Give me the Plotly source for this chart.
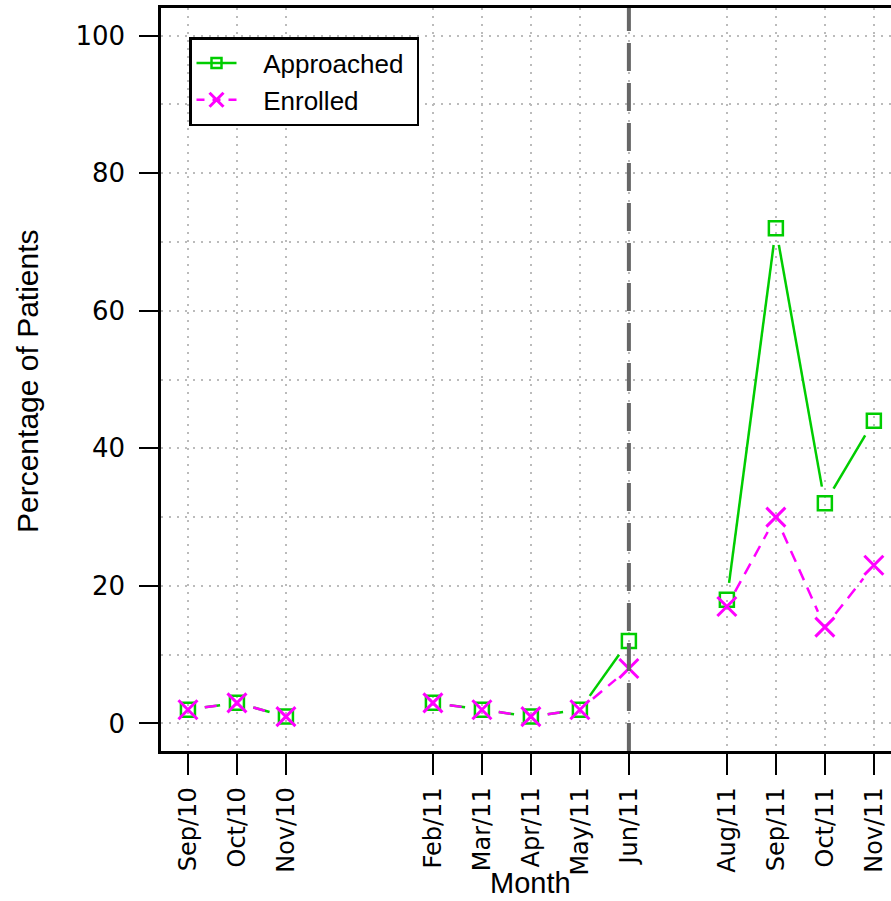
import math
import plotly.graph_objects as go

# ---------------- data ----------------
months = ["Sep/10", "Oct/10", "Nov/10", "Dec/10", "Jan/11", "Feb/11", "Mar/11",
          "Apr/11", "May/11", "Jun/11", "Jul/11", "Aug/11", "Sep/11", "Oct/11", "Nov/11"]
approached = [2, 3, 1, None, None, 3, 2, 1, 2, 12, None, 18, 72, 32, 44]
enrolled = [2, 3, 1, None, None, 3, 2, 1, 2, 8, None, 17, 30, 14, 23]
cutoff_month = "Jun/11"
y_ticks = [0, 20, 40, 60, 80, 100]

# ---------------- geometry ----------------
W, H = 891, 901
M_L, M_R, M_T, M_B = 161, 0, 8, 150
PLOT_W = W - M_L - M_R
PLOT_H = H - M_T - M_B
X_RANGE = [-0.55, 14.35]
Y_RANGE = [-4, 104]
SX = PLOT_W / (X_RANGE[1] - X_RANGE[0])
SY = PLOT_H / (Y_RANGE[1] - Y_RANGE[0])
GAP = 17  # px gap between line ends and points (R type="b")

xs = list(range(len(months)))
tick_x = [x for x, a in zip(xs, approached) if a is not None]
tick_text = [months[x] for x in tick_x]
cut_x = months.index(cutoff_month)


def gapped(xv, yv):
    ox, oy = [], []
    for i in range(len(xv) - 1):
        if yv[i] is None or yv[i + 1] is None:
            continue
        dx = (xv[i + 1] - xv[i]) * SX
        dy = (yv[i + 1] - yv[i]) * SY
        L = math.hypot(dx, dy)
        if L <= 2 * GAP:
            continue
        f = GAP / L
        ox += [xv[i] + f * (xv[i + 1] - xv[i]), xv[i + 1] - f * (xv[i + 1] - xv[i]), None]
        oy += [yv[i] + f * (yv[i + 1] - yv[i]), yv[i + 1] - f * (yv[i + 1] - yv[i]), None]
    return ox, oy


GREEN = "#00CD00"
MAGENTA = "#FF00FF"
NB = "\u00a0"

fig = go.Figure()

ax, ay = gapped(xs, approached)
ex, ey = gapped(xs, enrolled)

fig.add_trace(go.Scatter(x=ax, y=ay, mode="lines", line=dict(color=GREEN, width=2.5),
                         showlegend=False, hoverinfo="skip"))
fig.add_trace(go.Scatter(x=xs, y=approached, mode="markers",
                         marker=dict(symbol="square-open", size=14, color=GREEN,
                                     line=dict(color=GREEN, width=2.5)),
                         showlegend=False))
fig.add_trace(go.Scatter(x=ex, y=ey, mode="lines",
                         line=dict(color=MAGENTA, width=2.5, dash="12px,8px"),
                         showlegend=False, hoverinfo="skip"))
fig.add_trace(go.Scatter(x=xs, y=enrolled, mode="markers",
                         marker=dict(symbol="x-thin-open", size=19, color=MAGENTA,
                                     line=dict(color=MAGENTA, width=3)),
                         showlegend=False))

# legend entries
fig.add_trace(go.Scatter(x=[None], y=[None], mode="lines+markers",
                         name=NB * 3 + "Approached" + NB,
                         line=dict(color=GREEN, width=2.5),
                         marker=dict(symbol="square-open", size=10, color=GREEN,
                                     line=dict(color=GREEN, width=2.5))))
fig.add_trace(go.Scatter(x=[None], y=[None], mode="lines+markers",
                         name=NB * 3 + "Enrolled" + NB,
                         line=dict(color=MAGENTA, width=2.5, dash="8px,8px"),
                         marker=dict(symbol="x-thin-open", size=14, color=MAGENTA,
                                     line=dict(color=MAGENTA, width=3))))

fig.add_shape(type="line", xref="x", yref="paper", x0=cut_x, x1=cut_x, y0=0, y1=1,
              line=dict(color="#666666", width=4, dash="28px,12px"), layer="above")

fig.update_layout(
    width=W, height=H,
    margin=dict(l=M_L, r=M_R, t=M_T, b=M_B, pad=0),
    paper_bgcolor="white", plot_bgcolor="white",
    font=dict(family="Liberation Sans, Arial, sans-serif", color="black"),
    showlegend=True,
    legend=dict(x=(189 - M_L) / PLOT_W, y=(H - M_B - 37) / PLOT_H,
                xanchor="left", yanchor="top",
                bgcolor="white", bordercolor="black", borderwidth=2.5,
                font=dict(family="Liberation Sans", size=26, color="black"),
                itemwidth=40, tracegroupgap=0),
    xaxis=dict(range=X_RANGE, tickmode="array", tickvals=tick_x, ticktext=tick_text,
               tickangle=-90, tickfont=dict(family="DejaVu Sans", size=24, color="black"),
               ticks="outside", ticklen=21, tickwidth=2, tickcolor="black",
               ticklabelstandoff=3,
               showline=True, linecolor="black", linewidth=2.5, mirror=True,
               showgrid=True, gridcolor="#BBBBBB", gridwidth=2, griddash="2px,6px",
               zeroline=False, fixedrange=True),
    yaxis=dict(range=Y_RANGE, tickmode="array", tickvals=y_ticks,
               tickfont=dict(family="DejaVu Sans", size=26, color="black"),
               ticks="outside", ticklen=19, tickwidth=2, tickcolor="black",
               ticklabelstandoff=9,
               showline=True, linecolor="black", linewidth=2.5,
               showgrid=True, gridcolor="#BBBBBB", gridwidth=2, griddash="2px,6px",
               minor=dict(dtick=10, tick0=0, showgrid=True, gridcolor="#BBBBBB",
                          gridwidth=2, griddash="2px,6px", ticks=""),
               zeroline=False, fixedrange=True),
    annotations=[
        dict(text="Percentage of Patients", xref="paper", yref="paper",
             x=0, y=(H - M_B - 381) / PLOT_H, xshift=-(M_L - 27),
             xanchor="center", yanchor="middle",
             textangle=-90, showarrow=False,
             font=dict(family="Liberation Sans", size=30, color="black")),
        dict(text="Month", xref="paper", yref="paper",
             x=(530 - M_L) / PLOT_W, y=0, yshift=-(883 - (H - M_B)),
             xanchor="center", yanchor="middle", showarrow=False,
             font=dict(family="Liberation Sans", size=29, color="black")),
    ],
)

fig.write_html("out.html", config={"displayModeBar": False},
               post_script="document.body.style.margin='0';document.body.style.padding='0';")
